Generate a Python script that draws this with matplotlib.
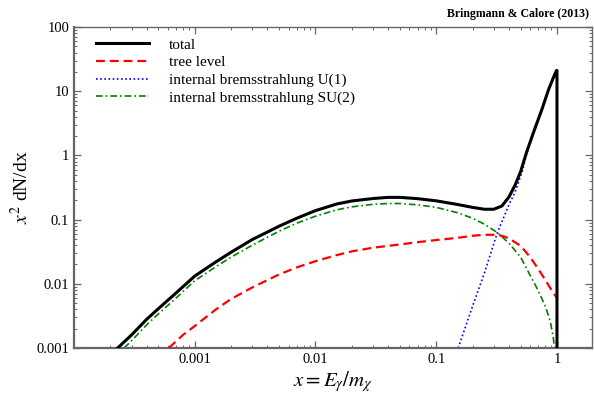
import matplotlib
matplotlib.use("Agg")
import matplotlib.pyplot as plt
from matplotlib.ticker import LogLocator, FixedLocator, FixedFormatter, NullFormatter

plt.rcParams['font.family'] = ['Liberation Serif', 'DejaVu Serif']
plt.rcParams['mathtext.fontset'] = 'stix'

# total
x_tot = [2.3e-4, 3e-4, 4e-4, 5e-4, 7e-4, 1e-3, 1.5e-3, 2e-3, 3e-3, 4e-3, 5e-3, 7e-3, 1e-2, 1.5e-2, 2e-2,
         3e-2, 4e-2, 5e-2, 7e-2, 0.1, 0.15, 0.2, 0.25, 0.3, 0.35, 0.4, 0.45, 0.5, 0.56, 0.65, 0.75, 0.85,
         0.93, 0.99, 1.0, 1.0]
y_tot = [0.001, 0.0016, 0.0028, 0.0041, 0.0072, 0.0132, 0.022, 0.031, 0.049, 0.064, 0.079, 0.105, 0.138,
         0.175, 0.195, 0.213, 0.222, 0.222, 0.212, 0.196, 0.172, 0.155, 0.145, 0.145, 0.163, 0.225, 0.345,
         0.56, 1.12, 2.5, 5.2, 10.5, 16.0, 21.0, 21.0, 1e-4]
# tree level
x_tree = [6.1e-4, 8e-4, 1e-3, 1.5e-3, 2e-3, 3e-3, 5e-3, 7e-3, 1e-2, 1.5e-2, 2e-2, 3e-2, 5e-2, 7e-2, 0.1,
          0.15, 0.2, 0.25, 0.3, 0.35, 0.4, 0.5, 0.6, 0.7, 0.8, 0.9, 1.0]
y_tree = [0.001, 0.0016, 0.0022, 0.0040, 0.0058, 0.0088, 0.0140, 0.0180, 0.0225, 0.0280, 0.032, 0.0365,
          0.041, 0.0445, 0.048, 0.052, 0.056, 0.058, 0.058, 0.056, 0.051, 0.039, 0.026, 0.017, 0.0115,
          0.008, 0.006]
# internal bremsstrahlung U(1)
x_u1 = [0.152, 0.2, 0.25, 0.32, 0.4, 0.45, 0.48, 0.52, 0.56, 0.65, 0.75, 0.85, 0.93, 0.99]
y_u1 = [0.001, 0.0045, 0.0145, 0.062, 0.17, 0.27, 0.38, 0.6, 1.05, 2.4, 5.1, 10.3, 15.5, 20.5]
# internal bremsstrahlung SU(2)
x_su2 = [2.6e-4, 3e-4, 4e-4, 5e-4, 7e-4, 1e-3, 1.5e-3, 2e-3, 3e-3, 5e-3, 7e-3, 1e-2, 1.5e-2, 2e-2, 3e-2,
         4e-2, 5e-2, 7e-2, 0.1, 0.15, 0.2, 0.25, 0.32, 0.4, 0.5, 0.6, 0.7, 0.8, 0.88, 0.93, 0.96, 0.975]
y_su2 = [0.001, 0.0013, 0.0023, 0.0034, 0.006, 0.0112, 0.0185, 0.026, 0.040, 0.066, 0.088, 0.113, 0.142,
         0.158, 0.173, 0.178, 0.178, 0.17, 0.155, 0.128, 0.105, 0.085, 0.063, 0.043, 0.026, 0.0135,
         0.0078, 0.0045, 0.0026, 0.0015, 0.0009, 0.0005]

xtick_vals = [0.001, 0.01, 0.1, 1]
xtick_labels = ['0.001', '0.01', '0.1', '1']
ytick_vals = [0.001, 0.01, 0.1, 1, 10, 100]
ytick_labels = ['0.001', '0.01', '0.1', '1', '10', '100']

fig = plt.figure(figsize=(5.94, 3.98), dpi=100)
ax = fig.add_axes([74/594, 1-348/398, (592-74)/594, (348-27)/398])

ax.plot(x_tot, y_tot, color='black', lw=2.2, label='total', zorder=4)
ax.plot(x_tree, y_tree, color='red', lw=1.6, ls=(0, (4, 2.2)), label='tree level', zorder=3)
ax.plot(x_u1, y_u1, color='blue', lw=1.2, ls=(0, (1, 1.5)), label='internal bremsstrahlung U(1)', zorder=2)
ax.plot(x_su2, y_su2, color='#008000', lw=1.2, ls=(0, (4, 1.8, 1, 1.8)), label='internal bremsstrahlung SU(2)', zorder=2)

ax.set_xscale('log')
ax.set_yscale('log')
ax.set_xlim(1e-4, 1.95)
ax.set_ylim(1e-3, 100)

ax.xaxis.set_major_locator(FixedLocator(xtick_vals))
ax.xaxis.set_major_formatter(FixedFormatter(xtick_labels))
ax.xaxis.set_minor_locator(LogLocator(base=10, subs=range(2, 10), numticks=20))
ax.xaxis.set_minor_formatter(NullFormatter())
ax.yaxis.set_major_locator(FixedLocator(ytick_vals))
ax.yaxis.set_major_formatter(FixedFormatter(ytick_labels))
ax.yaxis.set_minor_locator(LogLocator(base=10, subs=range(2, 10), numticks=20))
ax.yaxis.set_minor_formatter(NullFormatter())

for s in ax.spines.values():
    s.set_color('#666666')
    s.set_linewidth(1.0)
ax.spines['bottom'].set_linewidth(1.6)
ax.spines['left'].set_linewidth(1.6)
ax.tick_params(which='both', direction='in', top=True, right=True, colors='#666666', labelcolor='black', labelsize=10.5)
ax.tick_params(which='major', length=5, width=0.9)
ax.tick_params(which='minor', length=2.5, width=0.7)

ax.set_xlabel(r'$x = E_\gamma/m_\chi$', fontsize=15, labelpad=2)
ax.set_ylabel(r'$x^2$ dN/dx', fontsize=14, labelpad=3)

leg = ax.legend(loc='upper left', frameon=False, fontsize=11, handlelength=3.5, handletextpad=1.3,
                labelspacing=0.26, borderaxespad=0.0, bbox_to_anchor=(0.03, 0.985))

fig.text(589/594, 1-14/398, 'Bringmann & Calore (2013)', ha='right', va='center', fontsize=8.5, fontweight='bold')

fig.savefig('out.png', dpi=100)
